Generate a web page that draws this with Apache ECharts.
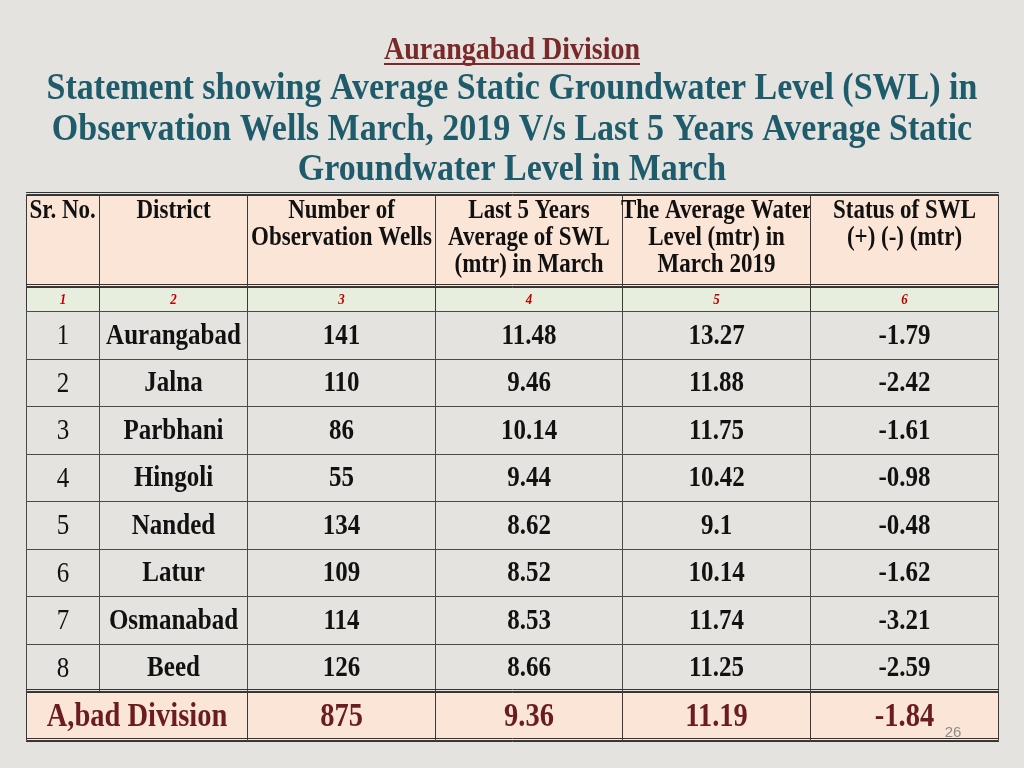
<!DOCTYPE html>
<html><head><meta charset="utf-8">
<script src="https://cdn.jsdelivr.net/npm/echarts@6/dist/echarts.min.js"></script>
<style>html,body{margin:0;padding:0;background:#e4e3df}#c{width:1024px;height:768px}</style>
</head><body><div id="c"></div><script>
// ---------- data ----------
const divisionTitle = 'Aurangabad Division';
const mainTitle = ['Statement showing Average Static Groundwater Level (SWL) in',
  'Observation Wells March, 2019 V/s Last 5 Years Average Static',
  'Groundwater Level in March'];
const headerLabels = ['Sr. No.', 'District', 'Number of\nObservation Wells',
  'Last 5 Years\nAverage of SWL\n(mtr) in March', 'The Average Water\nLevel (mtr) in\nMarch 2019',
  'Status of SWL\n(+) (-) (mtr)'];
const columnNumbers = ['1', '2', '3', '4', '5', '6'];
const srNo = [1, 2, 3, 4, 5, 6, 7, 8];
const districts = ['Aurangabad', 'Jalna', 'Parbhani', 'Hingoli', 'Nanded', 'Latur', 'Osmanabad', 'Beed'];
const wells = [141, 110, 86, 55, 134, 109, 114, 126];
const avgLast5Years = [11.48, 9.46, 10.14, 9.44, 8.62, 8.52, 8.53, 8.66];
const levelMarch2019 = [13.27, 11.88, 11.75, 10.42, 9.1, 10.14, 11.74, 11.25];
const swlStatus = [-1.79, -2.42, -1.61, -0.98, -0.48, -1.62, -3.21, -2.59];
const totalLabel = 'A,bad Division';
const totalValues = [875, 9.36, 11.19, -1.84];
const pageNumber = '26';

// ---------- layout (axis units) ----------
const colEdges = [0, 73, 221, 409, 596, 784, 972];
const headerH = 92, numRowH = 25, dataRowH = 47.5, totalH = 49;
const yHeaderEnd = headerH, yNumEnd = headerH + numRowH;
const yDataEnd = yNumEnd + dataRowH * srNo.length;
const yTotalEnd = yDataEnd + totalH;

const FONT = '"Liberation Serif", "Times New Roman", serif';
const SY = 1.16; // vertical stretch of the slide's text
const styles = {
  header: {fill: '#fbe5d6', color: '#111', font: 'bold 23px ' + FONT, align: 'center', vAlign: 'top', padTop: 3, lineHeight: 23.3, sy: SY},
  headerLeft: {fill: '#fbe5d6', color: '#111', font: 'bold 23px ' + FONT, align: 'left', vAlign: 'top', padTop: 3, lineHeight: 23.3, sy: SY},
  num: {fill: '#e8eedd', color: '#c00000', font: 'italic bold 13px ' + FONT, align: 'center', vAlign: 'middle', sy: 1.1},
  sr: {fill: 'rgba(0,0,0,0)', color: '#111', font: '25px ' + FONT, align: 'center', vAlign: 'middle', sy: SY},
  data: {fill: 'rgba(0,0,0,0)', color: '#111', font: 'bold 25px ' + FONT, align: 'center', vAlign: 'middle', sy: SY},
  total: {fill: '#fbe5d6', color: '#6b1d1d', font: 'bold 28.5px ' + FONT, align: 'center', vAlign: 'middle', sy: SY}
};

const cells = [], cellText = [], cellKind = [];
function addCell(c0, c1, y0, y1, text, kind) {
  cells.push([colEdges[c0], colEdges[c1], y0, y1]);
  cellText.push(String(text));
  cellKind.push(kind);
}
headerLabels.forEach((h, i) => addCell(i, i + 1, 0, yHeaderEnd, h, i === 0 ? 'headerLeft' : 'header'));
columnNumbers.forEach((n, i) => addCell(i, i + 1, yHeaderEnd, yNumEnd, n, 'num'));
srNo.forEach((s, r) => {
  const y0 = yNumEnd + r * dataRowH, y1 = y0 + dataRowH;
  addCell(0, 1, y0, y1, s, 'sr');
  addCell(1, 2, y0, y1, districts[r], 'data');
  addCell(2, 3, y0, y1, wells[r], 'data');
  addCell(3, 4, y0, y1, avgLast5Years[r], 'data');
  addCell(4, 5, y0, y1, levelMarch2019[r], 'data');
  addCell(5, 6, y0, y1, swlStatus[r], 'data');
});
addCell(0, 2, yDataEnd, yTotalEnd, totalLabel, 'total');
totalValues.forEach((v, i) => addCell(i + 2, i + 3, yDataEnd, yTotalEnd, v, 'total'));

const rules = [[0], [yHeaderEnd], [yDataEnd], [yTotalEnd]];

const crisp = v => Math.round(v) + 0.5;
function renderCell(params, api) {
  const a = api.coord([api.value(0), api.value(2)]);
  const b = api.coord([api.value(1), api.value(3)]);
  const x0 = crisp(a[0]), x1 = crisp(b[0]), y0 = crisp(a[1]), y1 = crisp(b[1]);
  const st = styles[cellKind[params.dataIndex]];
  const isData = st === styles.data || st === styles.sr;
  const tx = st.align === 'left' ? x0 + 3 : (x0 + x1) / 2;
  const ty = st.vAlign === 'top' ? y0 + st.padTop : (y0 + y1) / 2 + 1;
  const textStyle = {text: cellText[params.dataIndex], x: 0, y: 0, align: st.align,
    verticalAlign: st.vAlign, font: st.font, fill: st.color};
  if (st.lineHeight) textStyle.lineHeight = st.lineHeight;
  return {type: 'group', children: [
    {type: 'rect', shape: {x: x0, y: y0, width: x1 - x0, height: y1 - y0},
      style: {fill: st.fill, stroke: isData ? '#4a4a4a' : '#3a3a3a', lineWidth: 1}},
    {type: 'text', x: tx, y: ty, scaleY: st.sy, style: textStyle}
  ]};
}
function renderRule(params, api) {
  const a = api.coord([0, api.value(0)]);
  const b = api.coord([972, api.value(0)]);
  const y = Math.round(a[1]);
  return {type: 'group', children: [
    {type: 'line', shape: {x1: a[0], y1: y - 1.5, x2: b[0] + 1, y2: y - 1.5}, style: {stroke: '#333', lineWidth: 1}},
    {type: 'line', shape: {x1: a[0], y1: y + 1.5, x2: b[0] + 1, y2: y + 1.5}, style: {stroke: '#333', lineWidth: 1}}
  ]};
}

// width of the underlined division title
const mctx = document.createElement('canvas').getContext('2d');
const divFont = 'bold 28px ' + FONT;
mctx.font = divFont;
const divW = Math.round(mctx.measureText(divisionTitle).width);
const TEAL = '#1e5b6b';
const titleText = (txt, y, size, color, sy) => ({type: 'text', x: 512, y: y, scaleY: sy,
  style: {text: txt, x: 0, y: 0, align: 'center', verticalAlign: 'middle', font: 'bold ' + size + 'px ' + FONT, fill: color}});

const chart = echarts.init(document.getElementById('c'));
chart.setOption({
  backgroundColor: '#e4e3df',
  animation: false,
  grid: {left: 26, top: 194, width: 972, height: 546},
  xAxis: {type: 'value', min: 0, max: 972, show: false},
  yAxis: {type: 'value', min: 0, max: yTotalEnd, inverse: true, show: false},
  series: [
    {type: 'custom', renderItem: renderCell, data: cells, encode: {x: [0, 1], y: [2, 3]}, silent: true},
    {type: 'custom', renderItem: renderRule, data: rules, encode: {y: 0}, silent: true, z: 5}
  ],
  graphic: [
    titleText(divisionTitle, 51, 28, '#7a2828', 1.1),
    {type: 'rect', shape: {x: 512 - divW / 2, y: 63, width: divW, height: 2}, style: {fill: '#7a2828'}},
    titleText(mainTitle[0], 89, 34, TEAL, 1.1),
    titleText(mainTitle[1], 130, 34, TEAL, 1.1),
    titleText(mainTitle[2], 170, 34, TEAL, 1.1),
    {type: 'text', x: 953, y: 733, style: {text: pageNumber, x: 0, y: 0, align: 'center', verticalAlign: 'middle',
      font: '15px "Liberation Sans", sans-serif', fill: '#8c8c8c'}, z: 10}
  ]
});
</script></body></html>
